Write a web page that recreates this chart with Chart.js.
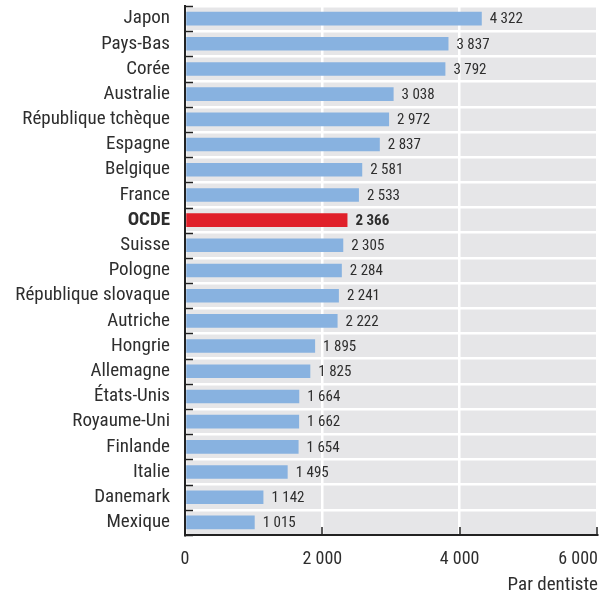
<!DOCTYPE html>
<html>
<head>
<meta charset="utf-8">
<script src="https://cdn.jsdelivr.net/npm/chart.js@4/dist/chart.umd.min.js"></script>
<style>
  html, body { margin: 0; padding: 0; background: #ffffff; }
  canvas { display: block; }
</style>
</head>
<body>
<canvas id="chart" width="614" height="595"></canvas>
<script>
// Population per dentist, by country
const categories = [
  'Japon', 'Pays-Bas', 'Corée', 'Australie', 'République tchèque', 'Espagne',
  'Belgique', 'France', 'OCDE', 'Suisse', 'Pologne', 'République slovaque',
  'Autriche', 'Hongrie', 'Allemagne', 'États-Unis', 'Royaume-Uni', 'Finlande',
  'Italie', 'Danemark', 'Mexique'
];
const values = [
  4322, 3837, 3792, 3038, 2972, 2837, 2581, 2533, 2366, 2305, 2284,
  2241, 2222, 1895, 1825, 1664, 1662, 1654, 1495, 1142, 1015
];
const xTicks = [0, 2000, 4000, 6000];
const xTickLabels = ['0', '2 000', '4 000', '6 000'];
const axisTitle = 'Par dentiste';
const highlight = 'OCDE';

const FONT = "'Liberation Sans Narrow', 'Arial Narrow', 'Roboto Condensed', sans-serif";
const TEXT = '#2e2e2e';
const BAR = '#88b2e0';
const RED = '#e0202a';
const PANEL = '#e6e6e8';
const AXIS = '#222222';

const fmt = n => String(n).replace(/\B(?=(\d{3})+(?!\d))/g, ' ');
const hi = categories.indexOf(highlight);

const panel = {
  id: 'panel',
  beforeDraw(chart) {
    const { ctx, chartArea: a } = chart;
    ctx.save();
    ctx.fillStyle = PANEL;
    ctx.fillRect(a.left, a.top, a.right - a.left, a.bottom - a.top);
    ctx.restore();
  },
  afterDatasetsDraw(chart) {
    const { ctx, chartArea: a } = chart;
    const xs = chart.scales.x;
    const meta = chart.getDatasetMeta(0);
    ctx.save();
    // value labels
    ctx.textBaseline = 'middle';
    ctx.textAlign = 'left';
    ctx.fillStyle = TEXT;
    meta.data.forEach((bar, i) => {
      ctx.font = (i === hi ? 'bold ' : '') + '15px ' + FONT;
      ctx.fillText(fmt(values[i]), bar.x + 8, bar.y + 1);
    });
    // inward ticks on the category axis
    ctx.strokeStyle = AXIS;
    ctx.lineWidth = 1.5;
    const step = (a.bottom - a.top) / categories.length;
    for (let i = 0; i <= categories.length; i++) {
      const y = Math.round(a.top + i * step) + 0.5;
      ctx.beginPath();
      ctx.moveTo(a.left, y);
      ctx.lineTo(a.left + 8, y);
      ctx.stroke();
    }
    // inward ticks on the value axis
    xTicks.forEach(v => {
      const x = Math.round(xs.getPixelForValue(v));
      ctx.beginPath();
      ctx.moveTo(x, a.bottom);
      ctx.lineTo(x, a.bottom - 8);
      ctx.stroke();
    });
    // value axis labels
    ctx.font = '18px ' + FONT;
    ctx.fillStyle = TEXT;
    xTicks.forEach((v, i) => {
      const x = xs.getPixelForValue(v);
      const last = i === xTicks.length - 1;
      ctx.textAlign = last ? 'right' : 'center';
      ctx.fillText(xTickLabels[i], last ? x + 1 : x, 559);
    });
    ctx.font = '19px ' + FONT;
    ctx.textAlign = 'right';
    ctx.fillText(axisTitle, a.right + 1, 585);
    ctx.restore();
  }
};

new Chart(document.getElementById('chart'), {
  type: 'bar',
  data: {
    labels: categories,
    datasets: [{
      data: values,
      backgroundColor: categories.map((c, i) => i === hi ? RED : BAR),
      barPercentage: 0.54,
      categoryPercentage: 1
    }]
  },
  options: {
    indexAxis: 'y',
    responsive: false,
    animation: false,
    devicePixelRatio: 1,
    layout: { padding: { top: 6, right: 17, left: 0, bottom: 0 } },
    plugins: { legend: { display: false }, tooltip: { enabled: false } },
    scales: {
      y: {
        grid: { color: '#ffffff', lineWidth: 2.5, offset: true, drawTicks: false },
        border: { color: AXIS, width: 2, z: 1 },
        ticks: {
          autoSkip: false,
          padding: 15,
          color: TEXT,
          font: ctx => ({ family: FONT, size: 19, weight: ctx.index === hi ? 'bold' : 'normal' })
        },
        afterFit(scale) {
          scale.width = 185;
          scale.paddingTop = 0;
          scale.paddingBottom = 0;
        }
      },
      x: {
        min: 0,
        max: 6000,
        ticks: { stepSize: 2000, display: false },
        grid: { color: '#ffffff', lineWidth: 2.5, drawTicks: false },
        border: { color: AXIS, width: 2, z: 1 },
        afterFit(scale) {
          scale.height = 60;
          scale.paddingLeft = 0;
          scale.paddingRight = 0;
        }
      }
    }
  },
  plugins: [panel]
});
</script>
</body>
</html>
